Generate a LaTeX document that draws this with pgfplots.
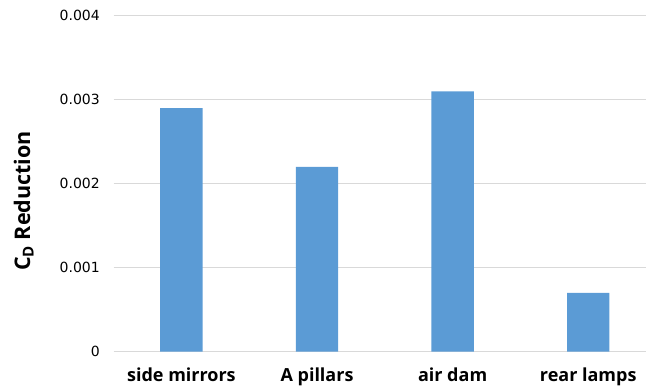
\documentclass[border=0pt]{standalone}
\usepackage{pgfplots}
\pgfplotsset{compat=1.18}
\usepackage{fontspec}
\setmainfont{Open Sans}
\newfontfamily\tickfont{DejaVu Sans}
\definecolor{barblue}{HTML}{5B9BD5}
\definecolor{gridgray}{HTML}{D9D9D9}
\begin{document}
\begin{tikzpicture}
\begin{axis}[
  name=main,
  at={(0pt,0pt)}, anchor=south west,
  scale only axis,
  width=532.4pt, height=336pt,
  xmin=-0.5, xmax=3.426,
  ymin=0, ymax=0.004,
  axis line style={draw=none},
  major tick length=0pt,
  tick style={draw=none},
  ymajorgrids,
  grid style={gridgray, line width=1pt},
  xtick={0,1,2,3},
  xticklabels={side mirrors, A pillars, air dam, rear lamps},
  xticklabel style={font=\bfseries\fontsize{18}{20}\selectfont, anchor=base, inner sep=0pt, yshift=-30pt},
  ytick={0,0.001,0.002,0.003,0.004},
  yticklabels={0,0.001,0.002,0.003,0.004},
  scaled y ticks=false,
  yticklabel style={font=\tickfont\fontsize{14}{16}\selectfont, anchor=east, inner sep=0pt, xshift=-13.6pt},
  ylabel={C\textsubscript{D} Reduction},
  ylabel style={font=\bfseries\fontsize{21.5}{23}\selectfont, anchor=base, inner sep=0pt,
    at={(axis description cs:-0.157,0.4485)}},
  clip=false,
]
\addplot[ybar, bar width=0.313, fill=barblue, draw=none]
  coordinates {(0,0.0029) (1,0.0022) (2,0.0031) (3,0.0007)};
\end{axis}
\pgfresetboundingbox
\useasboundingbox (-113.6pt,-34.3pt) rectangle (532.4pt,351.7pt);
\end{tikzpicture}
\end{document}
